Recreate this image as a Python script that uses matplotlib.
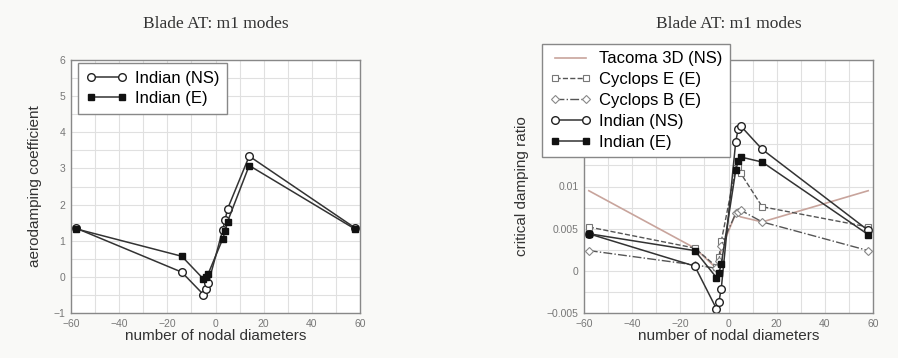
import numpy as np
import matplotlib
matplotlib.use("Agg")
import matplotlib.pyplot as plt
from matplotlib.ticker import MultipleLocator, FuncFormatter

# nodal diameters used by every series
nd = [-58, -14, -5, -4, -3, 3, 4, 5, 14, 58]

# left panel: aerodamping coefficient
indian_ns_coef = [1.35, 0.13, -0.49, -0.34, -0.18, 1.30, 1.58, 1.88, 3.34, 1.35]
indian_e_coef = [1.33, 0.57, -0.06, 0.00, 0.09, 1.05, 1.26, 1.53, 3.08, 1.32]

# right panel: critical damping ratio
tacoma_ns = [0.0095, 0.0027, 0.0003, 0.0012, 0.0026, 0.0068, 0.0066, 0.0064, 0.0058, 0.0095]
cyclops_e = [0.0052, 0.0027, 0.0005, 0.0016, 0.0035, 0.0122, 0.0123, 0.0116, 0.0076, 0.0052]
cyclops_b = [0.0024, 0.0007, 0.0003, 0.0012, 0.0030, 0.0068, 0.0070, 0.0072, 0.0058, 0.0024]
indian_ns = [0.0044, 0.00056, -0.0045, -0.0037, -0.0021, 0.0153, 0.0168, 0.0172, 0.0144, 0.0048]
indian_e = [0.0044, 0.0024, -0.0008, -0.0003, 0.0008, 0.0119, 0.0130, 0.0135, 0.0129, 0.0043]

plt.rcParams['font.family'] = ['Liberation Sans', 'DejaVu Sans']

fig = plt.figure(figsize=(8.98, 3.58), dpi=100, facecolor='#f9f9f7')
ax1 = fig.add_axes([71/898, 45/358, 289/898, 253/358])
ax2 = fig.add_axes([584/898, 45/358, 289/898, 253/358])

fmt = FuncFormatter(lambda v, p: ('%g' % v).replace('-', '\u2212'))


def style(ax, ymaj, ymin):
    ax.set_xlim(-60, 60)
    ax.xaxis.set_major_locator(MultipleLocator(20))
    ax.xaxis.set_minor_locator(MultipleLocator(10))
    ax.yaxis.set_major_locator(MultipleLocator(ymaj))
    ax.yaxis.set_minor_locator(MultipleLocator(ymin))
    ax.yaxis.set_major_formatter(fmt)
    ax.xaxis.set_major_formatter(fmt)
    ax.grid(True, which='both', color='#e0e0e0', linewidth=0.8)
    ax.set_axisbelow(True)
    ax.tick_params(which='both', direction='in', length=0, labelsize=7.5,
                   labelcolor='#777777', pad=4)
    for s in ax.spines.values():
        s.set_color('#888888')
        s.set_linewidth(1.0)
    ax.set_xlabel('number of nodal diameters', fontsize=11, color='#333333', labelpad=0)
    ax.set_title('Blade AT: m1 modes', family='Liberation Serif', fontsize=12.5,
                 color='#333333', pad=23)


leg_kw = dict(loc='upper left', bbox_transform=fig.transFigure, borderaxespad=0,
              numpoints=2, handlelength=2.5, handletextpad=0.45, fontsize=12,
              fancybox=False, framealpha=1, edgecolor='#888888', borderpad=0.45,
              labelspacing=0.35)

# left panel
ax1.plot(nd, indian_ns_coef, color='#333333', lw=1.1, marker='o', ms=5.5,
         mfc='white', mec='#222222', mew=1.0, label='Indian (NS)')
ax1.plot(nd, indian_e_coef, color='#333333', lw=1.1, marker='s', ms=4.2,
         mfc='#111111', mec='#111111', label='Indian (E)')
ax1.set_ylim(-1, 6)
style(ax1, 1, 0.5)
ax1.set_ylabel('aerodamping coefficient', fontsize=11, color='#333333', labelpad=8)
ax1.legend(bbox_to_anchor=(78/898, 1 - 63/358), **leg_kw)

# right panel
ax2.plot(nd, tacoma_ns, color='#c8a49c', lw=1.2, label='Tacoma 3D (NS)')
ax2.plot(nd, cyclops_e, color='#555555', lw=1.0, ls='--', marker='s', ms=4.8,
         mfc='white', mec='#777777', mew=0.8, label='Cyclops E (E)')
ax2.plot(nd, cyclops_b, color='#555555', lw=1.0, ls='-.', marker='D', ms=4.2,
         mfc='white', mec='#888888', mew=0.8, label='Cyclops B (E)')
ax2.plot(nd, indian_ns, color='#333333', lw=1.1, marker='o', ms=5.5,
         mfc='white', mec='#222222', mew=1.0, label='Indian (NS)')
ax2.plot(nd, indian_e, color='#333333', lw=1.1, marker='s', ms=4.2,
         mfc='#111111', mec='#111111', label='Indian (E)')
ax2.set_ylim(-0.005, 0.025)
style(ax2, 0.005, 0.0025)
ax2.set_ylabel('critical damping ratio', fontsize=11, color='#333333', labelpad=13)
leg2 = ax2.legend(bbox_to_anchor=(542/898, 1 - 44/358), **leg_kw)
leg2.set_zorder(10)

fig.savefig('out.png', dpi=100, facecolor=fig.get_facecolor())
